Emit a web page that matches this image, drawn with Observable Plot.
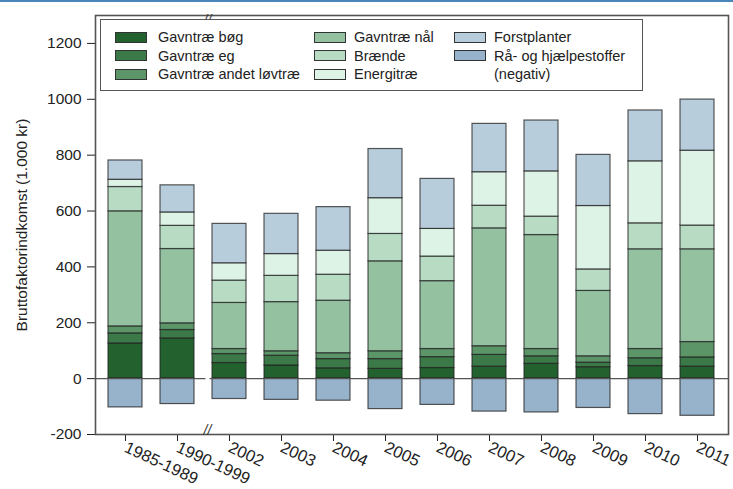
<!DOCTYPE html>
<html>
<head>
<meta charset="utf-8">
<script src="https://cdn.jsdelivr.net/npm/d3@7"></script>
<script src="https://cdn.jsdelivr.net/npm/@observablehq/plot@0.6"></script>
<style>
  html, body { margin: 0; padding: 0; background: white; }
  #wrap { position: relative; width: 733px; height: 489px; font-family: Arial, "Liberation Sans", sans-serif; }
  #topline { position: absolute; left: 0; top: 0; width: 733px; height: 2px; background: #4a86ba; }
  #legend { position: absolute; left: 100px; top: 19px; width: 543px; height: 72px; border: 1.5px solid #555; background: white; box-sizing: border-box; font-size: 14.5px; color: #222; }
  .item { position: absolute; height: 18px; line-height: 18px; white-space: nowrap; }
  .sw { position: absolute; width: 32px; height: 11px; border: 1.3px solid #333; box-sizing: border-box; top: 3.5px; left: 0; }
  .lbl { position: absolute; left: 43px; top: 0; }
</style>
</head>
<body>
<div id="wrap">
  <div id="chart"></div>
  <div id="legend"></div>
  <div id="topline"></div>
</div>
<script>
const categories = ["1985-1989", "1990-1999", "2002", "2003", "2004", "2005", "2006", "2007", "2008", "2009", "2010", "2011"];
const seriesNames = ["Gavntræ bøg", "Gavntræ eg", "Gavntræ andet løvtræ", "Gavntræ nål", "Brænde", "Energitræ", "Forstplanter", "Rå- og hjælpestoffer (negativ)"];
const seriesColors = ["#23612f", "#3b7a48", "#5b9568", "#94c2a0", "#b7dbc3", "#ddf3e6", "#b8cddc", "#97b3cb"];

const gavntraeBoeg   = [126, 144, 56, 47, 37, 35, 38, 43, 53, 41, 45, 43];
const gavntraeEg     = [36, 30, 32, 35, 33, 35, 39, 42, 27, 16, 28, 33];
const gavntraeAndet  = [25, 24, 18, 16, 21, 28, 29, 31, 26, 23, 33, 55];
const gavntraeNaal   = [412, 266, 165, 176, 188, 322, 243, 422, 408, 234, 357, 332];
const braende        = [87, 83, 80, 94, 93, 98, 88, 81, 66, 77, 93, 85];
const energitrae     = [26, 48, 62, 78, 86, 128, 99, 120, 162, 227, 222, 268];
const forstplanter   = [69, 97, 141, 144, 156, 176, 179, 173, 182, 183, 182, 183];
const raaHjaelpe     = [-103, -91, -73, -76, -79, -109, -94, -118, -121, -105, -127, -133];

const yTicks = [-200, 0, 200, 400, 600, 800, 1000, 1200];

const seriesValues = [gavntraeBoeg, gavntraeEg, gavntraeAndet, gavntraeNaal, braende, energitrae, forstplanter, raaHjaelpe];
const rows = [];
categories.forEach((c, i) => {
  seriesNames.forEach((s, j) => rows.push({period: c, series: s, value: seriesValues[j][i]}));
});

const chart = Plot.plot({
  width: 733,
  height: 489,
  marginLeft: 95,
  marginRight: 5,
  marginTop: 15,
  marginBottom: 55,
  style: {fontFamily: "Arial, 'Liberation Sans', sans-serif", fontSize: "15.5px", color: "#222", background: "white"},
  x: {domain: categories, paddingInner: 0.34, paddingOuter: 0.18, label: null, tickRotate: 25, tickSize: 7, tickPadding: 5},
  y: {domain: [-200, 1300], ticks: yTicks, tickSize: 8, tickPadding: 6, tickFormat: d => String(d),
      label: "Bruttofaktorindkomst (1.000 kr)", labelArrow: "none", labelAnchor: "center", labelOffset: 80},
  color: {domain: seriesNames, range: seriesColors},
  marks: [
    Plot.barY(rows, Plot.stackY({order: seriesNames}, {x: "period", y: "value", z: "series", fill: "series", stroke: "#222", strokeOpacity: 0.75, strokeWidth: 1.2})),
    Plot.ruleY([0], {stroke: "#555", strokeWidth: 1.3}),
    Plot.dot([0], {x: () => "1990-1999", y: d => d, dx: 30, symbol: "square", r: 2.3, fill: "white"}),
    Plot.frame({stroke: "#555", strokeWidth: 1.6}),
    Plot.text(["//"], {x: () => "1990-1999", frameAnchor: "top", dx: 30, fontSize: 14, fontStyle: "italic", fill: "#333"}),
    Plot.text(["//"], {x: () => "1990-1999", frameAnchor: "bottom", dx: 30, fontSize: 14, fontStyle: "italic", fill: "#333"})
  ]
});
d3.select(chart).selectAll('[aria-label^="x-axis tick label"] text, [aria-label="x-axis tick label"]').attr("font-size", "16.5px");
document.getElementById("chart").appendChild(chart);

// legend
const legend = document.getElementById("legend");
const layout = [
  {i: 0, col: 14, row: 0}, {i: 1, col: 14, row: 1}, {i: 2, col: 14, row: 2},
  {i: 3, col: 213, row: 0}, {i: 4, col: 213, row: 1}, {i: 5, col: 213, row: 2},
  {i: 6, col: 353, row: 0}, {i: 7, col: 353, row: 1}
];
const rowTops = [8, 26.5, 45];
layout.forEach(({i, col, row}) => {
  const it = document.createElement("div");
  it.className = "item";
  it.style.left = col + "px";
  it.style.top = rowTops[row] + "px";
  const sw = document.createElement("div");
  sw.className = "sw";
  sw.style.background = seriesColors[i];
  const lb = document.createElement("div");
  lb.className = "lbl";
  lb.style.left = (col === 14 ? 43 : 40) + "px";
  if (i === 7) {
    lb.innerHTML = "Rå- og hjælpestoffer<br>(negativ)";
  } else {
    lb.textContent = seriesNames[i];
  }
  it.appendChild(sw);
  it.appendChild(lb);
  legend.appendChild(it);
});
</script>
</body>
</html>
